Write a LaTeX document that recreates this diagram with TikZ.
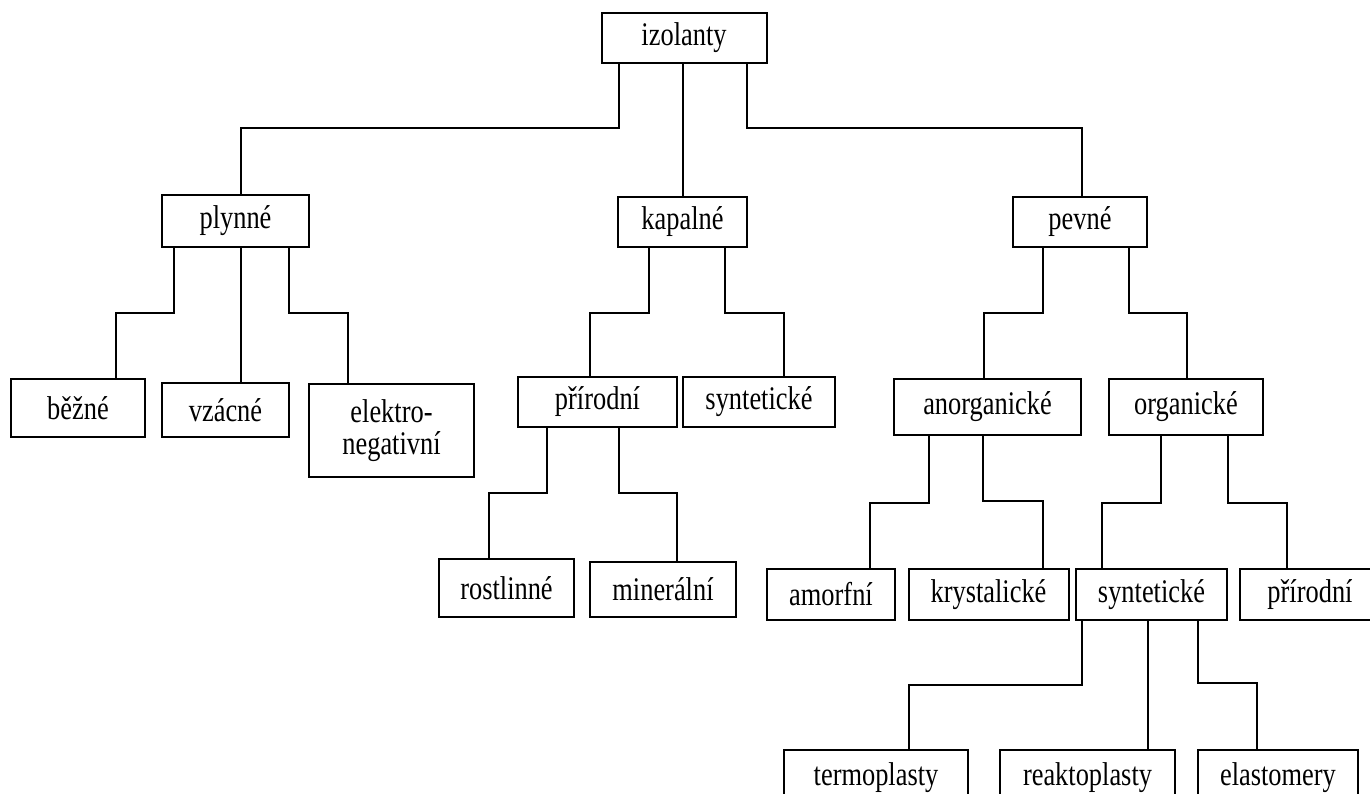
\documentclass[tikz,border=0pt]{standalone}
\usepackage{graphicx}
\usepackage{fontspec}
\setmainfont{Liberation Serif}

\tikzset{
    box/.style={draw, line width=1pt, inner sep=0pt, align=center,
        font=\fontsize{13.2}{16}\selectfont},
    boxsize/.style 2 args={minimum width=#1*0.5pt, minimum height=#2*0.5pt},
    link/.style={line width=1pt},
}
% the labels are a bit taller than wide
\newcommand{\tall}[1]{\scalebox{1}[1.25]{#1}}
% elbow connector: parent, x at parent, y of the step, x at child, child
\newcommand{\branch}[5]{\draw[link] (#2,0 |- #1.south) |- (#4,#3) -- (#4,0 |- #5.north);}

\begin{document}
\begin{tikzpicture}[x=0.5pt, y=-0.5pt]
    % Page frame
    \useasboundingbox (0,0) rectangle (1370,793);
    \clip (0,0) rectangle (1370,793);
    % Root
    \node[box, boxsize={165}{50}] (izol) at (684,38) {\tall{izolanty}};
    % Second level
    \node[box, boxsize={147}{52}] (plyn) at (235.5,221) {\tall{plynné}};
    \node[box, boxsize={129}{50}] (kap) at (682.5,222) {\tall{kapalné}};
    \node[box, boxsize={134}{50}] (pev) at (1080,222) {\tall{pevné}};
    % Gases
    \node[box, boxsize={134}{58}] (bez) at (78,408) {\tall{běžné}};
    \node[box, boxsize={127}{54}] (vzac) at (225.5,410) {\tall{vzácné}};
    \node[box, boxsize={165}{93}] (elek) at (391.5,430.5) {\tall{elektro-}\\\tall{negativní}};
    % Liquids
    \node[box, boxsize={159}{50}] (prir) at (597.5,402) {\tall{přírodní}};
    \node[box, boxsize={152}{50}] (synk) at (759,402) {\tall{syntetické}};
    \node[box, boxsize={135}{58}] (rost) at (506.5,588) {\tall{rostlinné}};
    \node[box, boxsize={146}{55}] (mine) at (663,589.5) {\tall{minerální}};
    % Solids
    \node[box, boxsize={187}{56}] (anorg) at (987.5,407) {\tall{anorganické}};
    \node[box, boxsize={154}{56}] (org) at (1186,407) {\tall{organické}};
    \node[box, boxsize={128}{51}] (amor) at (831,594.5) {\tall{amorfní}};
    \node[box, boxsize={160}{51}] (kryst) at (988.5,594.5) {\tall{krystalické}};
    \node[box, boxsize={151}{51}] (synt) at (1151.5,594.5) {\tall{syntetické}};
    \node[box, boxsize={140}{51}] (prirs) at (1310,594.5) {\tall{přírodní}};
    \node[box, boxsize={184}{55}] (term) at (876,777.5) {\tall{termoplasty}};
    \node[box, boxsize={175}{55}] (reak) at (1087.5,777.5) {\tall{reaktoplasty}};
    \node[box, boxsize={160}{55}] (elas) at (1278,777.5) {\tall{elastomery}};
    % Connectors
    \branch{izol}{619}{128}{241}{plyn}
    \draw[link] (682.5,0 |- izol.south) -- (682.5,0 |- kap.north);
    \branch{izol}{747}{128}{1081.5}{pev}
    \branch{plyn}{174}{313}{116}{bez}
    \draw[link] (241,0 |- plyn.south) -- (241,0 |- vzac.north);
    \branch{plyn}{289}{313}{348}{elek}
    \branch{kap}{649}{313}{590}{prir}
    \branch{kap}{725}{313}{784}{synk}
    \branch{prir}{547}{493}{489}{rost}
    \branch{prir}{619}{493}{677}{mine}
    \branch{pev}{1043}{313}{984}{anorg}
    \branch{pev}{1129}{313}{1187}{org}
    \branch{anorg}{929}{503}{870}{amor}
    \branch{anorg}{983}{501}{1042.5}{kryst}
    \branch{org}{1161}{503}{1102}{synt}
    \branch{org}{1228}{503}{1287}{prirs}
    \branch{synt}{1081.5}{685}{909}{term}
    \draw[link] (1148,0 |- synt.south) -- (1148,0 |- reak.north);
    \branch{synt}{1198}{683}{1257}{elas}
\end{tikzpicture}
\end{document}
